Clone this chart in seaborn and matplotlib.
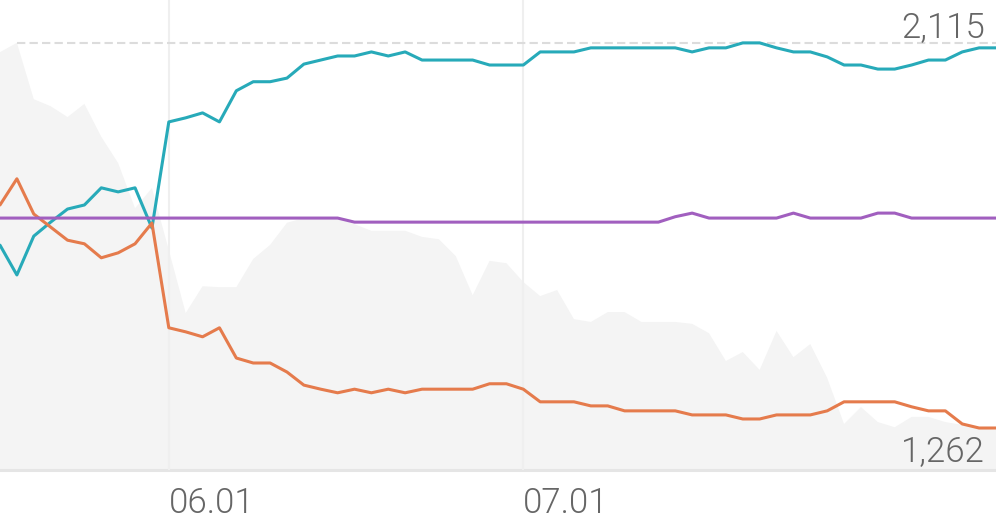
import numpy as np
import pandas as pd
import matplotlib
matplotlib.use("Agg")
import matplotlib.pyplot as plt
import seaborn as sb

# series values, one point per sample
teal = [1667, 1601, 1687, 1718, 1747, 1756, 1794, 1785, 1794, 1705,
        1940, 1949, 1960, 1940, 2009, 2029, 2029, 2037, 2068, 2077,
        2086, 2086, 2095, 2086, 2095, 2077, 2077, 2077, 2077, 2066,
        2066, 2066, 2095, 2095, 2095, 2104, 2104, 2104, 2104, 2104,
        2104, 2095, 2104, 2104, 2115, 2115, 2104, 2095, 2095, 2084,
        2066, 2066, 2057, 2057, 2066, 2077, 2077, 2095, 2104, 2104]
orange = [1756, 1814, 1736, 1707, 1678, 1670, 1639, 1650, 1670, 1716,
          1484, 1475, 1464, 1484, 1417, 1406, 1406, 1386, 1357, 1348,
          1340, 1348, 1340, 1348, 1340, 1348, 1348, 1348, 1348, 1360,
          1360, 1348, 1320, 1320, 1320, 1311, 1311, 1300, 1300, 1300,
          1300, 1291, 1291, 1291, 1282, 1282, 1291, 1291, 1291, 1300,
          1320, 1320, 1320, 1320, 1309, 1300, 1300, 1271, 1262, 1262]
purple = [1727] * 21 + [1718] * 19 + [1730, 1738, 1727, 1727, 1727, 1727, 1727,
                                      1738, 1727, 1727, 1727, 1727, 1738, 1738,
                                      1727, 1727, 1727, 1727, 1727, 1727]
# background volume (percent of its own scale)
volume = [88.9, 90.9, 78.9, 77.4, 75.1, 77.9, 70.9, 65.3, 55.7, 60.0,
          46.8, 33.4, 39.1, 38.9, 38.9, 44.9, 47.9, 52.6, 53.6, 53.6,
          53.6, 52.3, 50.9, 50.9, 50.9, 49.6, 49.1, 45.5, 37.2, 44.5,
          44.0, 40.0, 37.0, 38.3, 32.1, 31.5, 33.6, 33.6, 31.5, 31.5,
          31.5, 31.1, 29.1, 23.2, 25.1, 21.3, 29.6, 24.0, 26.8, 19.6,
          9.8, 13.4, 10.2, 9.1, 11.3, 11.3, 10.2, 9.6, 8.9, 8.5]
tick_pos = [10, 31]
tick_labels = ["06.01", "07.01"]

idx = np.arange(len(teal))
df = pd.DataFrame({"i": idx, "teal": teal, "orange": orange, "purple": purple})
max_val = max(teal)
min_val = min(orange)
text_color = "#666666"

sb.set_style("white")
plt.rcParams['font.family'] = ['Roboto', 'DejaVu Sans']

fig = plt.figure(figsize=(9.96, 5.19), dpi=100)
ax_bg = fig.add_axes([0, 49 / 519, 1, 470 / 519])
ax = ax_bg.twinx()

# gray volume area
ax_bg.fill_between(idx, volume, 0, color="#f4f4f4", lw=0)
ax_bg.set_ylim(0, 100)
ax_bg.set_xlim(0, len(teal) - 1)
ax_bg.set_yticks([])

# grid, max marker and lines
ax.vlines(tick_pos, 0, 1, transform=ax.get_xaxis_transform(), color="#efefef", lw=1.5, zorder=1)
ax.hlines(max_val, 1, len(teal) - 1, color="#dcdcdc", lw=1.5, linestyles=(0, (4, 2)), zorder=1)
sb.lineplot(data=df, x="i", y="teal", ax=ax, color="#27aab9", lw=2.2, zorder=3)
sb.lineplot(data=df, x="i", y="orange", ax=ax, color="#e57b4c", lw=2.2, zorder=3)
sb.lineplot(data=df, x="i", y="purple", ax=ax, color="#a15fbf", lw=2.2, zorder=4)
ax.set_ylim(1169, 2210)
ax.set_yticks([])
ax.set_xlabel("")
ax.set_ylabel("")
ax_bg.set_xlabel("")

for a in (ax, ax_bg):
    for s in ("top", "left", "right", "bottom"):
        a.spines[s].set_visible(False)
ax_bg.spines["bottom"].set_visible(True)
ax_bg.spines["bottom"].set_color("#e5e5e5")
ax_bg.spines["bottom"].set_linewidth(2.2)

ax_bg.set_xticks(tick_pos)
ax_bg.set_xticklabels(tick_labels, fontsize=25, fontweight=300, color=text_color, ha="left")
ax_bg.tick_params(axis="x", length=0, pad=12)

ax.annotate(f"{max_val:,}", xy=(len(teal) - 1, max_val), xytext=(-8, 4), textcoords="offset points",
            ha="right", va="baseline", fontsize=25, fontweight=300, color=text_color)
ax.annotate(f"{min_val:,}", xy=(len(teal) - 1, min_val), xytext=(-8, -24), textcoords="offset points",
            ha="right", va="baseline", fontsize=25, fontweight=300, color=text_color)

fig.savefig("out.png", dpi=100, facecolor="white")
